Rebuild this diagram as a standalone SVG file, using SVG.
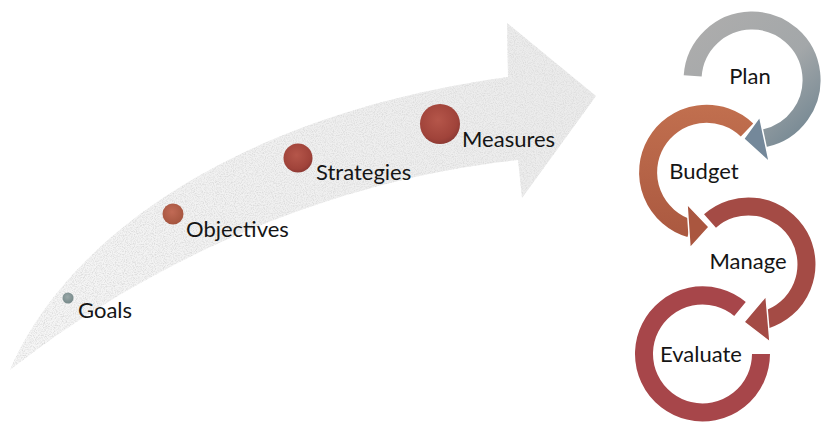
<svg xmlns="http://www.w3.org/2000/svg" width="822" height="424" viewBox="0 0 822 424">
  <style>
    .lbl { font-family: Lato, "Liberation Sans", sans-serif; font-size: 22px; fill: #151515; }
    .ring { fill: none; stroke-width: 18; }
    .head { stroke: #ffffff; stroke-width: 1.5; stroke-linejoin: miter; }
  </style>
  <defs>
    <linearGradient id="arrowFill" x1="10" y1="370" x2="596" y2="96" gradientUnits="userSpaceOnUse">
      <stop offset="0" stop-color="#f6f6f6"/>
      <stop offset="1" stop-color="#ebebeb"/>
    </linearGradient>
    <linearGradient id="planGrad" x1="690" y1="40" x2="790" y2="150" gradientUnits="userSpaceOnUse">
      <stop offset="0" stop-color="#acacac"/>
      <stop offset="0.55" stop-color="#a3a7a9"/>
      <stop offset="1" stop-color="#758893"/>
    </linearGradient>
    <linearGradient id="budgetGrad" x1="700" y1="100" x2="700" y2="245" gradientUnits="userSpaceOnUse">
      <stop offset="0" stop-color="#c2704f"/>
      <stop offset="1" stop-color="#a9573f"/>
    </linearGradient>
    <radialGradient id="dotRed" cx="0.45" cy="0.4" r="0.6">
      <stop offset="0" stop-color="#b5564a"/>
      <stop offset="0.8" stop-color="#a0433a"/>
      <stop offset="1" stop-color="#8e3a34"/>
    </radialGradient>
    <radialGradient id="dotOrange" cx="0.45" cy="0.4" r="0.6">
      <stop offset="0" stop-color="#c16a55"/>
      <stop offset="1" stop-color="#a5553f"/>
    </radialGradient>
    <radialGradient id="dotGrey" cx="0.45" cy="0.4" r="0.6">
      <stop offset="0" stop-color="#9aa8a8"/>
      <stop offset="1" stop-color="#76898a"/>
    </radialGradient>
    <filter id="grain" x="0" y="0" width="1" height="1">
      <feTurbulence type="fractalNoise" baseFrequency="0.9" numOctaves="2" seed="3" result="n"/>
      <feColorMatrix in="n" type="matrix" values="0 0 0 0 0.72  0 0 0 0 0.72  0 0 0 0 0.72  0 0 0 -2.6 1.55" result="g"/>
      <feComposite in="g" in2="SourceGraphic" operator="in" result="gm"/>
      <feMerge><feMergeNode in="SourceGraphic"/><feMergeNode in="gm"/></feMerge>
    </filter>
  </defs>

  <rect width="822" height="424" fill="#ffffff"/>

  <!-- curved progress arrow -->
  <g id="progress-arrow">
    <path d="M10,370 C70,230 250,112 508,77 L507,23 L596,96 L522,198 L518,160 C330,180 150,260 10,370 Z" fill="url(#arrowFill)" filter="url(#grain)"/>
  </g>

  <!-- milestones along the arrow -->
  <g id="goals">
    <circle cx="68" cy="298" r="5.5" fill="url(#dotGrey)"/>
    <text class="lbl" x="78" y="318">Goals</text>
  </g>
  <g id="objectives">
    <circle cx="173" cy="214" r="10.5" fill="url(#dotOrange)"/>
    <text class="lbl" x="186" y="237">Objectives</text>
  </g>
  <g id="strategies">
    <circle cx="298" cy="158" r="14.5" fill="url(#dotRed)"/>
    <text class="lbl" x="316" y="180">Strategies</text>
  </g>
  <g id="measures">
    <circle cx="440" cy="124" r="20" fill="url(#dotRed)"/>
    <text class="lbl" x="462" y="147">Measures</text>
  </g>

  <!-- cycle: Plan -> Budget -> Manage -> Evaluate -->
  <g id="plan">
    <path class="ring" stroke="url(#planGrad)" d="M692.7,75.8 A59.5,59.5 0 1 1 764.4,138.2"/>
    <polygon class="head" fill="#74889a" points="759.7,116.9 769.3,162.1 743.7,138.9"/>
    <text class="lbl" x="750" y="84" text-anchor="middle">Plan</text>
  </g>
  <g id="budget">
    <path class="ring" stroke="url(#budgetGrad)" d="M747,130 A58.5,58.5 0 1 0 690,228.4"/>
    <polygon class="head" fill="#aa563f" points="687,204 690,248 709,227"/>
    <text class="lbl" x="704" y="179" text-anchor="middle">Budget</text>
  </g>
  <g id="evaluate">
    <path class="ring" stroke="#a7464a" d="M761,354 A58.5,58.5 0 1 1 740,309"/>
    <text class="lbl" x="701" y="362" text-anchor="middle">Evaluate</text>
  </g>
  <g id="manage">
    <path class="ring" stroke="#a44b45" d="M710,221 A58,58 0 1 1 765,320"/>
    <polygon class="head" fill="#a44b45" points="766,296 770,342 744,322"/>
    <text class="lbl" x="748" y="269" text-anchor="middle">Manage</text>
  </g>
</svg>
